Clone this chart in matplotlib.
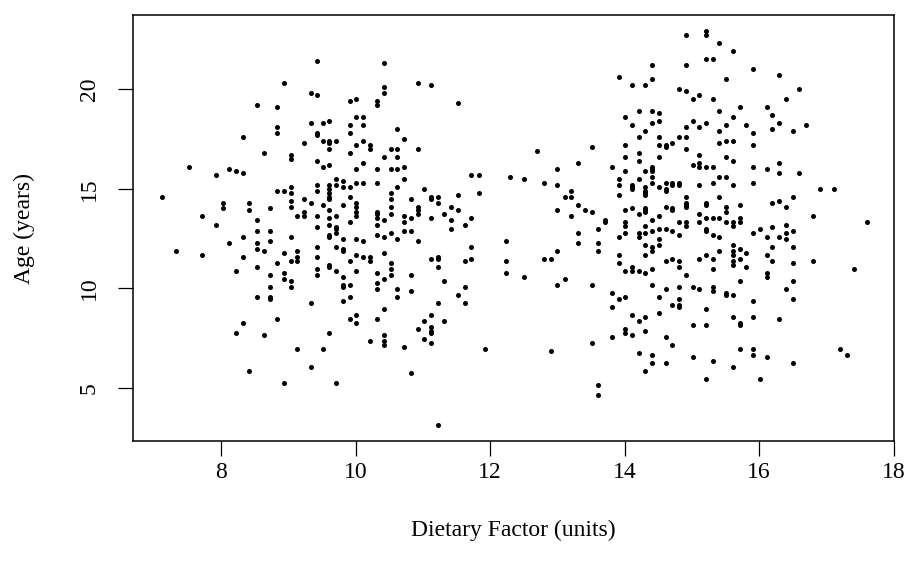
import matplotlib
matplotlib.use("Agg")
import matplotlib.pyplot as plt

# -------------------------------------------------------
# Data: (dietary factor, age)
# -------------------------------------------------------

# low dietary factor cluster, upper half
low_upper = [
    (9.43, 21.41), (8.93, 20.31), (9.33, 19.81), (9.43, 19.71), (8.53, 19.21), (8.83, 19.11),
    (8.83, 18.11), (8.83, 17.81), (9.33, 18.31), (9.43, 17.81), (9.43, 17.71), (9.23, 17.31),
    (8.32, 17.61), (8.63, 16.81), (9.03, 16.71), (9.03, 16.51), (9.43, 16.41), (7.52, 16.11),
    (8.12, 16.01), (8.22, 15.91), (8.32, 15.81), (7.92, 15.71), (7.12, 14.61), (8.83, 14.91),
    (8.93, 14.91), (9.03, 15.11), (9.03, 14.81), (9.43, 15.21), (9.43, 14.91), (9.23, 14.51),
    (9.33, 14.31), (8.02, 14.31), (8.02, 14.01), (8.42, 14.31), (8.42, 13.91), (8.73, 14.01),
    (9.03, 14.41), (9.03, 14.11), (7.72, 13.61), (8.53, 13.41), (9.13, 13.61), (9.23, 13.81),
    (9.23, 13.61), (9.43, 13.61),
    (10.42, 21.31), (10.92, 20.31), (11.12, 20.21), (10.42, 20.11), (10.42, 19.81), (9.91, 19.41),
    (10.01, 19.51), (10.32, 19.41), (10.32, 19.21), (11.52, 19.31), (9.51, 18.31), (9.61, 18.41),
    (9.91, 18.21), (9.91, 17.81), (10.01, 18.61), (10.11, 18.61), (10.11, 18.21), (10.62, 18.01),
    (10.72, 17.51), (9.51, 17.41), (9.61, 17.41), (9.61, 17.31), (9.71, 17.41), (9.61, 17.01),
    (10.01, 17.21), (10.11, 17.41), (10.21, 17.21), (10.21, 17.01), (9.91, 16.81), (10.52, 17.01),
    (10.62, 17.01), (10.92, 17.01), (10.42, 16.61), (10.62, 16.61), (9.51, 16.11), (9.61, 16.21),
    (10.11, 16.31), (10.01, 16.01), (10.32, 16.01), (10.52, 16.01), (10.62, 16.01), (10.72, 16.11),
    (11.72, 15.71), (11.83, 15.71), (10.72, 15.51), (9.71, 15.51), (9.61, 15.21), (9.61, 15.01),
    (9.61, 14.81), (9.61, 14.61), (9.61, 14.51), (9.71, 15.21), (9.81, 15.41), (9.81, 15.11),
    (9.91, 15.11), (10.01, 15.31), (10.11, 15.31), (10.32, 15.31), (10.62, 15.11), (11.02, 15.01),
    (11.83, 14.81), (11.52, 14.71), (9.51, 14.21), (9.81, 14.21), (9.91, 14.61), (10.52, 14.81),
    (10.52, 14.51), (10.82, 14.51), (11.12, 14.61), (11.12, 14.51), (11.22, 14.61), (11.22, 14.31),
    (10.01, 14.31), (10.01, 14.11), (10.01, 13.81), (10.01, 13.61), (10.52, 14.11), (10.92, 14.11),
    (10.92, 13.91), (10.92, 13.71), (11.42, 14.11), (11.52, 13.91), (9.61, 13.91), (10.32, 13.81),
    (10.32, 13.71), (10.32, 13.51), (10.52, 13.71), (10.72, 13.61), (10.82, 13.51), (11.32, 13.71),
    (11.12, 13.51), (11.72, 13.51), (9.71, 13.61), (9.61, 13.51), (10.42, 13.41), (11.42, 13.41),
    (9.91, 13.31), (10.72, 13.31),
]

# low dietary factor cluster, lower half
low_lower = [
    (7.92, 13.18), (8.53, 12.88), (8.73, 12.88), (9.43, 13.08), (8.32, 12.58), (9.03, 12.58),
    (8.12, 12.28), (8.53, 12.28), (8.73, 12.38), (9.43, 12.08), (7.32, 11.88), (7.72, 11.68),
    (8.53, 11.98), (8.63, 11.88), (8.93, 11.78), (9.13, 11.88), (9.13, 11.58), (9.13, 11.38),
    (8.32, 11.58), (9.43, 11.58), (9.03, 11.38), (8.83, 11.28), (8.22, 10.88), (8.53, 11.08),
    (9.43, 10.98), (9.43, 10.68), (8.73, 10.68), (8.93, 10.78), (8.93, 10.48), (9.03, 10.38),
    (9.03, 10.08), (8.73, 10.08), (8.53, 9.58), (8.73, 9.58), (8.73, 9.48), (9.33, 9.28),
    (8.83, 8.48), (8.32, 8.28), (8.22, 7.78), (8.63, 7.68), (9.13, 6.98), (9.33, 6.08),
    (8.42, 5.88), (8.93, 5.28),
    (9.61, 13.18), (9.71, 13.08), (9.71, 12.98), (9.71, 12.78), (10.32, 13.18), (11.62, 13.18),
    (9.61, 12.68), (9.61, 12.58), (9.81, 12.48), (10.01, 12.48), (10.11, 12.38), (10.32, 12.68),
    (10.42, 12.58), (10.52, 12.78), (10.62, 12.48), (10.72, 12.88), (10.82, 12.88), (10.92, 12.38),
    (11.42, 12.98), (12.23, 12.38), (9.71, 12.08), (9.81, 11.98), (9.81, 11.88), (9.91, 11.38),
    (10.01, 11.68), (10.11, 11.58), (10.21, 11.58), (10.21, 11.38), (10.42, 11.78), (10.52, 11.28),
    (10.52, 10.98), (10.52, 10.68), (11.12, 11.48), (11.22, 11.58), (11.22, 11.48), (11.22, 11.08),
    (11.62, 11.38), (11.72, 12.08), (11.72, 11.48), (12.23, 11.38), (12.23, 10.78), (9.61, 11.18),
    (9.61, 11.08), (9.71, 10.88), (10.01, 10.88), (9.81, 10.58), (9.81, 10.18), (9.81, 10.08),
    (9.91, 10.18), (10.32, 10.78), (10.32, 10.28), (10.32, 9.98), (10.42, 10.48), (10.82, 10.68),
    (10.82, 9.88), (10.62, 9.98), (10.62, 9.58), (11.32, 10.38), (11.62, 10.08), (11.52, 9.68),
    (9.91, 9.58), (9.81, 9.38), (11.22, 9.28), (11.62, 9.28), (10.42, 8.98), (11.12, 8.68),
    (10.01, 8.68), (10.01, 8.28), (9.91, 8.48), (10.32, 8.48), (11.02, 8.38), (11.32, 8.38),
    (10.92, 7.98), (11.12, 8.08), (11.12, 7.88), (11.12, 7.78), (9.61, 7.78), (10.42, 7.68),
    (10.42, 7.38), (10.42, 7.18), (10.21, 7.38), (11.02, 7.48), (11.12, 7.28), (10.72, 7.08),
    (9.51, 6.98), (11.93, 6.98), (10.82, 5.78), (9.71, 5.28), (11.22, 3.18),
]

# high dietary factor cluster, upper half
high_upper = [
    (13.91, 20.61), (14.11, 20.21), (14.21, 18.91), (14.01, 18.61), (14.11, 18.21), (14.21, 17.61),
    (12.70, 16.91), (13.51, 17.11), (14.01, 17.21), (14.01, 16.61), (14.21, 16.81), (14.21, 16.41),
    (13.31, 16.31), (13.81, 16.11), (13.00, 16.01), (14.01, 15.91), (12.30, 15.61), (12.50, 15.51),
    (12.80, 15.31), (13.00, 15.21), (13.91, 15.51), (13.91, 15.21), (13.91, 14.71), (14.11, 15.21),
    (14.11, 15.11), (14.11, 15.01), (14.21, 15.51), (13.21, 14.91), (13.21, 14.61), (13.11, 14.61),
    (13.31, 14.21), (13.00, 13.91), (13.41, 13.91), (13.51, 13.81), (13.21, 13.61), (14.01, 13.91),
    (14.11, 14.01), (14.21, 13.71), (13.71, 13.41), (13.71, 13.31), (14.01, 13.31),
    (15.21, 22.93), (15.21, 22.73), (14.91, 22.71), (15.41, 22.31), (15.61, 21.91), (15.21, 21.51),
    (15.31, 21.51), (14.41, 21.21), (14.91, 21.21), (15.91, 21.01), (14.31, 20.21), (14.41, 20.51),
    (15.51, 20.51), (14.81, 20.01), (14.91, 19.91), (15.01, 19.51), (15.11, 19.71), (15.31, 19.51),
    (14.41, 18.91), (14.51, 18.81), (15.41, 18.91), (15.71, 19.11), (16.12, 19.11), (14.41, 18.31),
    (14.51, 18.41), (15.01, 18.41), (15.11, 18.11), (15.21, 18.31), (14.91, 18.11), (15.61, 18.61),
    (15.51, 18.21), (15.81, 18.21), (14.31, 17.91), (15.41, 17.91), (15.91, 17.81), (14.51, 17.61),
    (14.81, 17.61), (14.91, 17.61), (14.51, 17.21), (14.61, 17.21), (14.61, 17.11), (14.71, 17.31),
    (15.41, 17.31), (15.51, 17.41), (15.61, 17.41), (15.91, 17.21), (14.91, 17.01), (14.51, 16.61),
    (15.11, 16.71), (15.51, 16.61), (15.61, 16.41), (15.01, 16.21), (15.11, 16.31), (15.11, 16.11),
    (15.21, 16.11), (15.31, 16.11), (14.31, 15.91), (14.41, 16.11), (14.41, 16.01), (14.41, 15.91),
    (14.41, 15.61), (15.91, 16.11), (16.12, 16.01), (15.41, 15.61), (15.51, 15.61), (14.41, 15.31),
    (14.51, 15.11), (14.61, 15.31), (14.61, 15.01), (14.61, 14.91), (14.71, 15.31), (14.71, 15.21),
    (14.81, 15.31), (14.81, 15.21), (15.11, 15.21), (15.31, 15.31), (15.61, 15.21), (15.91, 15.31),
    (14.31, 15.11), (14.31, 14.91), (14.31, 14.81), (14.31, 14.71), (14.91, 14.61), (15.41, 14.61),
    (14.91, 14.31), (14.91, 14.21), (14.91, 14.11), (15.21, 14.31), (15.21, 14.21), (15.71, 14.21),
    (14.31, 14.01), (14.31, 13.91), (14.31, 13.81), (14.61, 14.11), (14.71, 14.01), (14.71, 13.91),
    (15.51, 14.11), (15.51, 13.81), (14.51, 13.61), (15.11, 13.71), (15.21, 13.51), (15.31, 13.51),
    (15.41, 13.51), (15.71, 13.51), (14.41, 13.41), (14.81, 13.31), (14.91, 13.31), (15.11, 13.31),
    (15.51, 13.31), (15.61, 13.31), (15.71, 13.31),
    (16.30, 20.71), (16.60, 20.01), (16.40, 19.51), (16.20, 18.71), (16.30, 18.31), (16.20, 18.01),
    (16.50, 17.91), (16.70, 18.21), (16.30, 16.31), (16.30, 15.81), (16.60, 15.81), (16.90, 15.01),
    (17.11, 15.01), (16.50, 14.61), (16.20, 14.31), (16.30, 14.41), (16.40, 14.11), (16.80, 13.61),
    (17.61, 13.31),
]

# high dietary factor cluster, lower half
high_lower = [
    (14.01, 13.15), (13.61, 12.98), (13.31, 12.78), (13.31, 12.28), (13.61, 12.28), (13.61, 11.88),
    (13.91, 12.58), (14.01, 12.78), (14.21, 12.78), (14.21, 12.58), (13.00, 11.88), (12.80, 11.48),
    (12.90, 11.48), (13.91, 11.68), (13.91, 11.28), (14.01, 10.88), (14.11, 11.08), (14.11, 10.88),
    (14.21, 10.88), (12.50, 10.58), (13.00, 10.18), (13.11, 10.48), (13.51, 10.18), (13.81, 9.78),
    (13.91, 9.48), (14.01, 9.58), (13.81, 9.08), (14.11, 8.68), (14.21, 8.38), (14.01, 7.98),
    (14.01, 7.78), (14.11, 7.68), (13.81, 7.58), (13.51, 7.28), (12.90, 6.88), (14.21, 6.78),
    (13.61, 5.18), (13.61, 4.68),
    (14.31, 13.15), (14.31, 12.78), (14.41, 12.88), (14.51, 12.98), (14.61, 12.98), (14.71, 12.88),
    (14.91, 13.15), (14.81, 12.68), (15.21, 12.98), (15.21, 12.88), (15.31, 12.68), (15.41, 12.58),
    (15.61, 13.15), (15.91, 12.78), (16.02, 12.98), (16.12, 12.58), (14.51, 12.48), (14.31, 12.18),
    (14.41, 12.08), (14.41, 11.88), (14.51, 12.18), (14.31, 11.68), (14.61, 11.38), (14.71, 11.48),
    (14.81, 11.38), (14.81, 11.08), (15.11, 11.48), (15.21, 11.68), (15.31, 11.48), (15.31, 10.98),
    (15.41, 11.88), (15.61, 12.18), (15.61, 11.88), (15.61, 11.68), (15.61, 11.38), (15.61, 11.18),
    (15.71, 11.98), (15.71, 11.48), (15.81, 11.78), (15.81, 11.08), (16.12, 11.68), (16.12, 10.78),
    (16.12, 10.58), (14.31, 10.78), (14.41, 10.98), (14.91, 10.68), (14.41, 10.18), (14.61, 9.98),
    (14.81, 10.08), (15.01, 10.08), (15.11, 9.98), (15.31, 10.08), (15.31, 9.88), (15.51, 9.78),
    (15.51, 9.68), (15.61, 9.68), (15.71, 10.38), (14.51, 9.58), (14.81, 9.48), (14.81, 9.18),
    (14.81, 9.08), (14.71, 9.18), (15.21, 8.98), (15.91, 9.38), (14.51, 8.78), (14.31, 8.58),
    (15.61, 8.58), (15.71, 8.28), (15.71, 8.18), (15.91, 8.58), (15.01, 8.18), (15.21, 8.18),
    (14.31, 7.88), (14.61, 7.58), (14.71, 7.18), (15.71, 6.98), (15.91, 6.98), (15.91, 6.68),
    (16.12, 6.58), (14.41, 6.68), (14.41, 6.28), (14.61, 6.28), (15.01, 6.58), (15.31, 6.38),
    (15.61, 6.08), (14.31, 5.88), (15.21, 5.48), (16.02, 5.48),
    (16.20, 13.08), (16.40, 13.18), (16.40, 12.78), (16.40, 12.48), (16.50, 12.88), (16.30, 12.58),
    (16.20, 12.08), (16.50, 12.08), (16.20, 11.38), (16.50, 11.28), (16.80, 11.38), (17.41, 10.98),
    (16.50, 10.38), (16.40, 9.98), (16.50, 9.48), (16.30, 8.48), (17.21, 6.98), (17.31, 6.68),
    (16.50, 6.28),
]

x_ticks = [8, 10, 12, 14, 16, 18]
y_ticks = [5, 10, 15, 20]

# -------------------------------------------------------
# Figure
# -------------------------------------------------------

plt.rcParams["font.family"] = ["Liberation Serif", "DejaVu Serif"]
plt.rcParams["font.size"] = 17

fig = plt.figure(figsize=(9.07, 5.67), dpi=100)
ax = fig.add_axes([133 / 907, 1 - 441 / 567, (893.5 - 133) / 907, (441 - 15) / 567])

points = low_upper + low_lower + high_upper + high_lower
diet = [p[0] for p in points]
age = [p[1] for p in points]

ax.scatter(diet, age, s=13, c="black", linewidths=0)

ax.set_xlim(6.687, 17.995)
ax.set_ylim(2.356, 23.709)

ax.set_xticks(x_ticks)
ax.set_yticks(y_ticks)
ax.tick_params(direction="out", length=11, width=0.9, color="black")
ax.tick_params(axis="x", pad=4)
ax.tick_params(axis="y", pad=13)
for lab in ax.get_yticklabels():
    lab.set_rotation(90)
    lab.set_va("center")

for sp in ax.spines.values():
    sp.set_linewidth(1.1)

fig.text((133 + 893.5) / 2 / 907, 1 - 530 / 567, "Dietary Factor (units)",
         ha="center", va="center")
fig.text(24 / 907, 1 - 228 / 567, "Age (years)", rotation=90,
         ha="center", va="center")

fig.savefig("out.png", dpi=100)
